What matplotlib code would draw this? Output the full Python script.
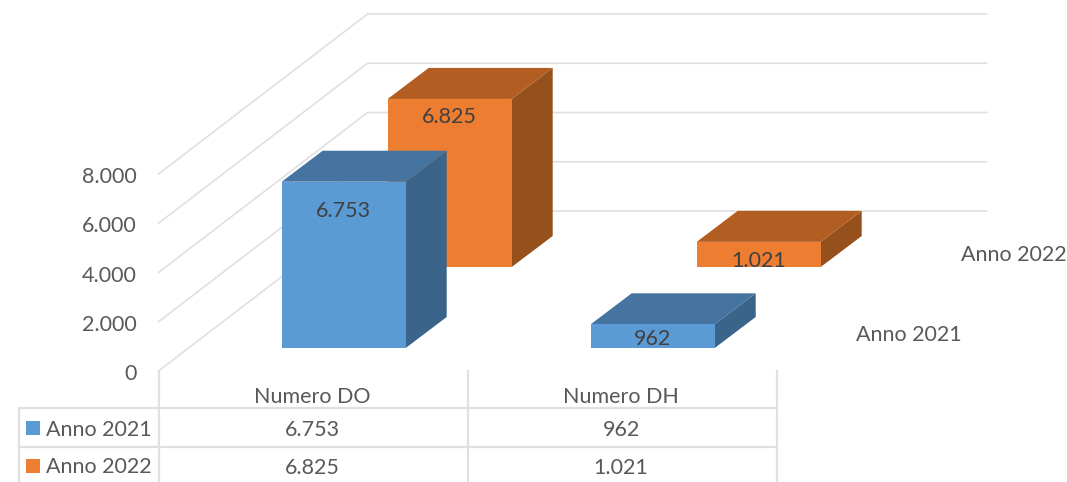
import matplotlib
matplotlib.use("Agg")
import matplotlib.pyplot as plt
from matplotlib.patches import Polygon, Rectangle

plt.rcParams['font.family'] = ['Lato', 'DejaVu Sans']

categories = ["Numero DO", "Numero DH"]
series_names = ["Anno 2021", "Anno 2022"]
anno_2021 = [6753, 962]
anno_2022 = [6825, 1021]
value_ticks = [0, 2000, 4000, 6000, 8000]

W, H = 1067, 482
fig = plt.figure(figsize=(W / 100, H / 100), dpi=100)
ax = fig.add_axes([0, 0, 1, 1])
ax.set_xlim(0, W)
ax.set_ylim(H, 0)
ax.axis('off')

# projection of (category, series depth, value) on the picture
X0, Y0 = 158.5, 371.0      # front-left floor corner
CAT_W = 309.0              # width of one category
DEPTH_DX, DEPTH_DY = 209.0, -160.0   # whole floor depth
PX_PER_UNIT = 197.0 / 8000
BAR_W = 124.0
BAR_DX, BAR_DY = 41.0, -31.0
STEP_DX, STEP_DY = 106.0, -81.0
FIRST_X, FIRST_Y = 123.2, -23.0      # first bar relative to the category start

GRID = '#E0E0E0'
TEXT = '#595959'
LABEL = '#404040'
FS = 15.5
DY = 2.0   # vertical centring of the font

def fmt(v):
    return f"{v:,}".replace(",", ".")

# walls
for t in value_ticks:
    h = t * PX_PER_UNIT
    ax.plot([X0, X0 + DEPTH_DX, X0 + DEPTH_DX + 2 * CAT_W + 1],
            [Y0 - h, Y0 + DEPTH_DY - h, Y0 + DEPTH_DY - h],
            color=GRID, lw=1.2, solid_joinstyle='miter', zorder=1)
    ax.text(136.5, Y0 - h + DY + 1, fmt(t), ha='right', va='center', color=TEXT, fontsize=FS)

# bars
faces = {
    0: ('#5B9BD5', '#4674A0', '#3A6489'),
    1: ('#ED7D31', '#B25E22', '#95501B'),
}
label_offset = {
    (0, 0): 27, (0, 1): 16,
    (1, 0): 13, (1, 1): 17,
}
for s, vals in [(1, anno_2022), (0, anno_2021)]:
    front, top, side = faces[s]
    for c, v in enumerate(vals):
        x = X0 + c * CAT_W + FIRST_X + s * STEP_DX
        yb = Y0 + FIRST_Y + s * STEP_DY
        yt = yb - v * PX_PER_UNIT
        z = 5 - s + c * 0.1
        ax.add_patch(Polygon([(x + BAR_W, yb), (x + BAR_W + BAR_DX, yb + BAR_DY),
                              (x + BAR_W + BAR_DX, yt + BAR_DY), (x + BAR_W, yt)],
                             fc=side, ec='none', zorder=z))
        ax.add_patch(Polygon([(x, yt), (x + BAR_DX, yt + BAR_DY),
                              (x + BAR_W + BAR_DX, yt + BAR_DY), (x + BAR_W, yt)],
                             fc=top, ec='none', zorder=z))
        ax.add_patch(Rectangle((x, yt), BAR_W, yb - yt, fc=front, ec='none', zorder=z))
        ax.text(x + BAR_W / 2, yt + label_offset[(c, s)] + DY, fmt(v), ha='center', va='center',
                color=LABEL, fontsize=FS, zorder=z + 0.05)

# series names on the depth axis
ax.text(908.5, 333 + DY, series_names[0], ha='center', va='center', color=TEXT, fontsize=FS, zorder=8)
ax.text(1014, 253 + DY, series_names[1], ha='center', va='center', color=TEXT, fontsize=FS, zorder=8)

# data table
TX = [18.5, 158.5, 467.5, 776.5]
TY = [371, 408, 447, 482]
for x in TX[1:]:
    ax.plot([x, x], [TY[0], TY[3]], color=GRID, lw=1.6, zorder=2, clip_on=True)
ax.plot([TX[0], TX[0]], [TY[1], TY[3]], color=GRID, lw=1.6, zorder=2)
for y in TY[1:3]:
    ax.plot([TX[0], TX[3]], [y, y], color=GRID, lw=1.6, zorder=2)

rows = [anno_2021, anno_2022]
row_y = [(TY[1] + TY[2]) / 2 + 0.5, (TY[2] + TY[3]) / 2 + 1.0]
colors = ['#5B9BD5', '#ED7D31']
for c, name in enumerate(categories):
    cx = (TX[c + 1] + TX[c + 2]) / 2 - 1
    ax.text(cx, 395 + DY, name, ha='center', va='center', color=TEXT, fontsize=FS)
    for r, row in enumerate(rows):
        ax.text(cx, row_y[r] + DY, fmt(row[c]), ha='center', va='center', color=TEXT, fontsize=FS)
for r, name in enumerate(series_names):
    ax.add_patch(Rectangle((26, row_y[r] - 7), 14, 14, fc=colors[r], ec='none', zorder=3))
    ax.text(46, row_y[r] + 1.5, name, ha='left', va='center', color=TEXT, fontsize=FS)

fig.savefig('out.png', dpi=100)
